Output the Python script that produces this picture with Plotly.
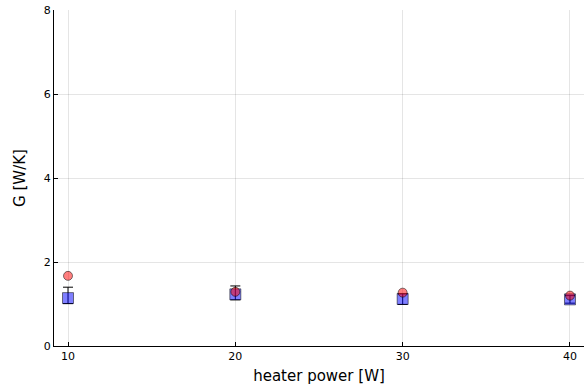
import plotly.graph_objects as go

power = [10, 20, 30, 40]
g_measured = [1.14, 1.23, 1.12, 1.11]
g_err_plus = [0.26, 0.20, 0.12, 0.09]
g_err_minus = [0.13, 0.13, 0.13, 0.09]
g_model = [1.67, 1.29, 1.27, 1.20]

fig = go.Figure()
fig.add_trace(go.Scatter(
    x=power, y=g_measured, mode="markers",
    marker=dict(symbol="square", size=11, color="rgba(0,0,255,0.5)",
                line=dict(color="rgba(0,0,0,0.5)", width=1)),
    error_y=dict(type="data", symmetric=False, array=g_err_plus, arrayminus=g_err_minus,
                 color="black", thickness=1, width=5),
    showlegend=False))
fig.add_trace(go.Scatter(
    x=power, y=g_model, mode="markers",
    marker=dict(symbol="circle", size=9, color="rgba(255,0,0,0.5)",
                line=dict(color="rgba(0,0,0,0.5)", width=1)),
    showlegend=False))

axis_common = dict(showline=True, linecolor="black", linewidth=1, mirror=False,
                   showgrid=True, gridcolor="rgba(0,0,0,0.1)", gridwidth=1,
                   ticks="inside", ticklen=4, tickcolor="black",
                   zeroline=False, tickfont=dict(size=11, color="black"))
fig.update_xaxes(range=[9.163, 40.837], tickvals=[10, 20, 30, 40],
                 title=dict(text="heater power [W]", font=dict(size=15, color="black"), standoff=8),
                 **axis_common)
fig.update_yaxes(range=[0, 8], tickvals=[0, 2, 4, 6, 8],
                 title=dict(text="G [W/K]", font=dict(size=15, color="black"), standoff=14),
                 **axis_common)
fig.update_layout(width=586, height=389, margin=dict(l=54, r=2, t=10, b=43),
                  plot_bgcolor="white", paper_bgcolor="white",
                  font=dict(family="DejaVu Sans"))
fig.write_html("out.html")
